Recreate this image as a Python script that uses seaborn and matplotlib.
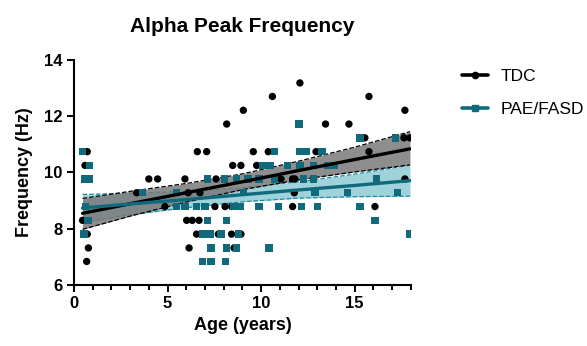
import numpy as np
import pandas as pd
import matplotlib
matplotlib.use('Agg')
import matplotlib.pyplot as plt
from matplotlib.lines import Line2D
import seaborn as sns

# values (age in years, peak frequency in Hz)
tdc_age = [0.71, 0.59, 0.46, 0.71, 0.77, 0.68, 3.35, 4.0, 4.47, 4.86, 5.93, 6.1,
           6.73, 6.59, 7.09, 7.59, 7.53, 8.07, 8.42, 6.02, 6.32, 6.68, 6.55, 7.71,
           8.42, 8.92, 6.15, 8.55, 8.16, 9.05, 8.48, 8.92, 9.58, 10.38, 9.76, 10.6,
           12.07, 11.06, 11.68, 11.8, 11.77, 11.68, 12.93, 13.44, 14.69, 15.76,
           15.54, 15.76, 16.08, 17.68, 17.63, 17.95, 17.68]
tdc_freq = [10.74, 10.25, 8.30, 7.81, 7.32, 6.84, 9.28, 9.77, 9.77, 8.79, 9.77, 9.28,
            9.28, 10.74, 10.74, 9.77, 8.79, 8.79, 8.79, 8.30, 8.30, 8.30, 7.81, 7.81,
            7.81, 7.81, 7.32, 7.32, 11.72, 12.21, 10.25, 10.25, 10.74, 10.74, 10.25, 12.70,
            13.18, 9.77, 9.77, 9.77, 9.28, 8.79, 10.74, 11.72, 11.72, 12.70,
            11.23, 10.74, 8.79, 12.21, 11.23, 11.23, 9.77]

pae_age = [0.46, 0.82, 0.55, 0.8, 0.6, 0.75, 0.53, 3.67, 5.48, 5.48, 5.93, 6.55,
           7.0, 8.55, 8.87, 7.12, 8.03, 8.69, 9.3, 9.88, 10.7, 12.25, 12.78, 9.04,
           7.12, 8.16, 6.85, 7.27, 7.85, 8.78, 7.32, 8.16, 8.7, 10.42, 6.88, 7.32,
           8.1, 12.02, 10.7, 12.07, 12.4, 13.26, 10.1, 10.47, 11.4, 12.07, 12.78,
           13.58, 13.9, 12.87, 14.6, 17.27, 9.88, 10.91, 12.16, 13.02, 15.28, 15.28,
           17.18, 16.17, 16.08, 17.95]
pae_freq = [10.74, 10.25, 9.77, 9.77, 8.79, 8.30, 7.81, 9.28, 9.28, 8.79, 8.79, 8.79,
            8.79, 8.79, 8.79, 9.77, 9.77, 9.77, 9.77, 9.77, 9.77, 9.77, 9.77, 9.28,
            8.30, 8.30, 7.81, 7.81, 7.81, 7.81, 7.32, 7.32, 7.32, 7.32, 6.84, 6.84,
            6.84, 11.72, 10.74, 10.74, 10.74, 10.74, 10.25, 10.25, 10.25, 10.25, 10.25,
            10.25, 10.25, 9.28, 9.28, 9.28, 8.79, 8.79, 8.79, 8.79, 8.79, 11.23,
            11.23, 9.77, 8.30, 7.81]

# linear fits and their 95% bands at a few ages
fit_age = [0.46, 3, 6, 9, 12, 15, 17.95]
tdc_fit = [8.55, 8.89, 9.28, 9.67, 10.07, 10.46, 10.84]
tdc_upper = [9.08, 9.33, 9.61, 9.95, 10.40, 10.90, 11.45]
tdc_lower = [7.98, 8.45, 8.95, 9.39, 9.74, 10.02, 10.27]
pae_fit = [8.74, 8.88, 9.04, 9.21, 9.38, 9.54, 9.71]
pae_upper = [9.22, 9.26, 9.33, 9.46, 9.67, 9.94, 10.26]
pae_lower = [8.22, 8.50, 8.75, 8.96, 9.09, 9.14, 9.16]

groups = ['TDC', 'PAE/FASD']
colors = {'TDC': '#000000', 'PAE/FASD': '#106a7b'}

df = pd.concat([
    pd.DataFrame({'age': tdc_age, 'freq': tdc_freq, 'group': 'TDC'}),
    pd.DataFrame({'age': pae_age, 'freq': pae_freq, 'group': 'PAE/FASD'}),
])
fits = pd.DataFrame({'age': fit_age,
                     'tdc': tdc_fit, 'tdc_lo': tdc_lower, 'tdc_hi': tdc_upper,
                     'pae': pae_fit, 'pae_lo': pae_lower, 'pae_hi': pae_upper})

sns.set_style('ticks')
plt.rcParams['font.family'] = ['Liberation Sans', 'DejaVu Sans']
for key in ['text.color', 'axes.labelcolor', 'xtick.color', 'ytick.color', 'axes.edgecolor']:
    plt.rcParams[key] = 'black'

fig = plt.figure(figsize=(5.87, 3.46), dpi=100)
ax = fig.add_axes([0.126, 0.176, 0.574, 0.651])

# confidence bands: teal underneath, grey on top
ax.fill_between(fits['age'], fits['pae_lo'], fits['pae_hi'], color='#9fd2db', lw=0, zorder=1)
ax.plot(fits['age'], fits['pae_lo'], ls='--', color='#1a8ca2', lw=0.9, zorder=1.1)
ax.plot(fits['age'], fits['pae_hi'], ls='--', color='#1a8ca2', lw=0.9, zorder=1.1)
ax.fill_between(fits['age'], fits['tdc_lo'], fits['tdc_hi'], color='#7a7a7a', alpha=0.85, lw=0, zorder=2)
ax.plot(fits['age'], fits['tdc_lo'], ls='--', color='black', lw=0.9, zorder=2.1)
ax.plot(fits['age'], fits['tdc_hi'], ls='--', color='black', lw=0.9, zorder=2.1)

sns.scatterplot(data=df, x='age', y='freq', hue='group', style='group',
                markers={'TDC': 'o', 'PAE/FASD': 's'}, palette=colors,
                s=28, linewidth=0, legend=False, ax=ax, zorder=3)

sns.lineplot(data=fits, x='age', y='tdc', color=colors['TDC'], lw=2.4, ax=ax, zorder=4)
sns.lineplot(data=fits, x='age', y='pae', color=colors['PAE/FASD'], lw=2.4, ax=ax, zorder=4)

ax.set_xlim(0, 18)
ax.set_ylim(6, 14)
ax.set_xticks([0, 5, 10, 15])
ax.set_xticks(np.arange(0, 19, 1), minor=True)
ax.set_yticks([6, 8, 10, 12, 14])
for lab in ax.get_xticklabels() + ax.get_yticklabels():
    lab.set_fontweight('bold')
ax.tick_params(axis='both', which='major', length=5, width=1.4, labelsize=12, pad=3)
ax.tick_params(axis='x', which='minor', length=3.5, width=1.4)
sns.despine(ax=ax)
for sp in ['left', 'bottom']:
    ax.spines[sp].set_linewidth(1.5)

ax.set_title('Alpha Peak Frequency', fontsize=15, fontweight='bold', pad=20)
ax.set_xlabel('Age (years)', fontsize=13, fontweight='bold', labelpad=4)
ax.set_ylabel('Frequency (Hz)', fontsize=13, fontweight='bold', labelpad=8)

handles = [Line2D([0], [0], color=colors[g], lw=2.6,
                  marker='o' if g == 'TDC' else 's', markersize=4.5)
           for g in groups]
fig.legend(handles, groups, loc='upper left', bbox_to_anchor=(0.787, 0.80),
           frameon=False, fontsize=12.5, handlelength=1.5, handletextpad=0.7,
           labelspacing=1.0, borderpad=0, borderaxespad=0)

fig.savefig('out.png', dpi=100)
